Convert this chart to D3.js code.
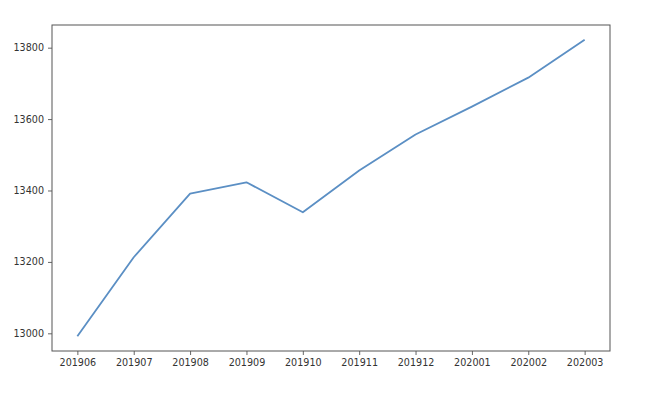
<!DOCTYPE html>
<html>
<head>
<meta charset="utf-8">
<script src="https://cdn.jsdelivr.net/npm/d3@7"></script>
<style>
  body { margin: 0; background: #fff; }
  svg text { font-family: "DejaVu Sans", sans-serif; fill: #333; }
</style>
</head>
<body>
<div id="chart"></div>
<script>
// data
const months = ["201906", "201907", "201908", "201909", "201910",
                "201911", "201912", "202001", "202002", "202003"];
const values = [12992, 13213, 13391, 13423, 13339, 13456, 13557, 13635, 13716, 13822];
const yTicks = [13000, 13200, 13400, 13600, 13800];

const w = 650, h = 393;
const plotLeft = 52, plotTop = 25, plotRight = 610, plotBottom = 351;

const svg = d3.select("#chart").append("svg")
  .attr("width", w)
  .attr("height", h);

// matplotlib style margins: 5% on each side
const x = d3.scaleLinear()
  .domain([-0.45, months.length - 1 + 0.45])
  .range([plotLeft, plotRight]);

const yMin = d3.min(values), yMax = d3.max(values);
const pad = (yMax - yMin) * 0.05;
const y = d3.scaleLinear()
  .domain([yMin - pad, yMax + pad])
  .range([plotBottom, plotTop]);

const xAxis = d3.axisBottom(x)
  .tickValues(d3.range(months.length))
  .tickFormat(i => months[i])
  .tickSizeInner(4)
  .tickSizeOuter(0)
  .tickPadding(4);

const yAxis = d3.axisLeft(y)
  .tickValues(yTicks)
  .tickFormat(d3.format("d"))
  .tickSizeInner(4)
  .tickSizeOuter(0)
  .tickPadding(4);

const gx = svg.append("g")
  .attr("transform", "translate(0," + plotBottom + ")")
  .call(xAxis);
const gy = svg.append("g")
  .attr("transform", "translate(" + plotLeft + ",0)")
  .call(yAxis);

[gx, gy].forEach(g => {
  g.select(".domain").remove();
  g.selectAll(".tick line").attr("stroke", "#555").attr("stroke-width", 0.9);
  g.selectAll(".tick text").style("font-size", "9.6px").attr("fill", "#333");
});

// frame around the axes
svg.append("rect")
  .attr("x", plotLeft)
  .attr("y", plotTop)
  .attr("width", plotRight - plotLeft)
  .attr("height", plotBottom - plotTop)
  .attr("fill", "none")
  .attr("stroke", "#555")
  .attr("stroke-width", 1);

const line = d3.line()
  .x((d, i) => x(i))
  .y(d => y(d));

svg.append("path")
  .datum(values)
  .attr("d", line)
  .attr("fill", "none")
  .attr("stroke", "#5b8fc4")
  .attr("stroke-width", 1.8)
  .attr("stroke-linejoin", "round");
</script>
</body>
</html>
